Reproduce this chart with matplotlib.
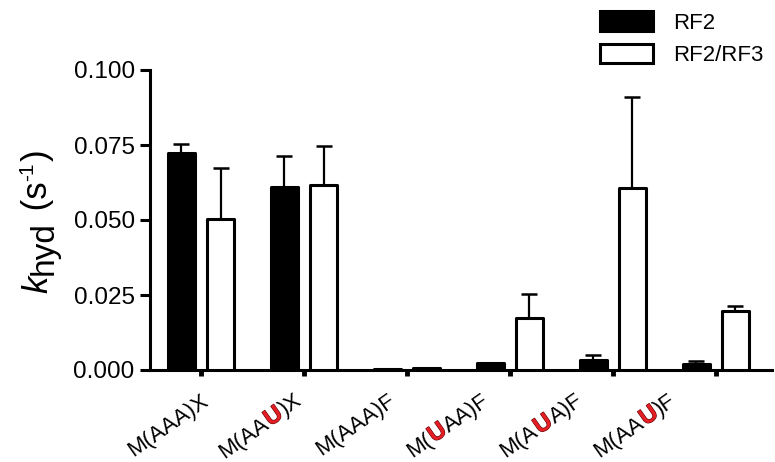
import numpy as np
import matplotlib
matplotlib.use('agg')
import matplotlib.pyplot as plt
from matplotlib import transforms, patheffects

plt.rcParams['font.family'] = ['Liberation Sans', 'DejaVu Sans']

### data
categories = ["M(AAA)X", "M(AAU)X", "M(AAA)F", "M(UAA)F", "M(AUA)F", "M(AAU)F"]
red_pos = [None, 4, None, 2, 3, 4]   # index of the mutated U in each label
series_names = ["RF2", "RF2/RF3"]
rf2 = [0.0722, 0.0610, 0.0004, 0.0025, 0.0035, 0.0020]
rf2_err = [0.0033, 0.0103, 0.0, 0.0, 0.0015, 0.0010]
rf23 = [0.0502, 0.0618, 0.0006, 0.0174, 0.0608, 0.0197]
rf23_err = [0.0170, 0.0130, 0.0, 0.0078, 0.0302, 0.0016]
yticks = [0.0, 0.025, 0.050, 0.075, 0.100]

RED = '#e31e24'


def rich_text(fig, trans, x, y, parts, angle, align='left'):
    # draw a row of text pieces (string, props, rise) along a rotated baseline
    r = fig.canvas.get_renderer()
    widths = []
    for s, p, rise in parts:
        t = fig.text(0, 0, s, **p)
        widths.append(t.get_window_extent(renderer=r).width * 72 / fig.dpi + 0.6)
        t.remove()
    total = sum(widths)
    c, sn = np.cos(np.radians(angle)), np.sin(np.radians(angle))
    pos = -total if align == 'right' else 0.0
    for (s, p, rise), w in zip(parts, widths):
        dx = pos * c - rise * sn
        dy = pos * sn + rise * c
        tr = transforms.offset_copy(trans, fig=fig, x=dx, y=dy, units='points')
        fig.text(x, y, s, transform=tr, rotation=angle, rotation_mode='anchor',
                 ha='left', va='baseline', **p)
        pos += w


fig = plt.figure(figsize=(7.75, 4.62), dpi=100)
ax = fig.add_axes([150/775, 92/462, 622/775, 300/462])

x = np.arange(len(categories))
off = 0.19
w = 0.26
ax.bar(x - off, rf2, w, color='black', edgecolor='black', linewidth=2.2,
       joinstyle='round', label=series_names[0], zorder=3)
ax.bar(x + off, rf23, w, color='white', edgecolor='black', linewidth=2.2,
       joinstyle='round', label=series_names[1], zorder=3)

for xs, vals, errs in [(x - off, rf2, rf2_err), (x + off, rf23, rf23_err)]:
    m = np.array(errs) > 0
    ax.errorbar(xs[m], np.array(vals)[m], yerr=[np.zeros(m.sum()), np.array(errs)[m]],
                fmt='none', ecolor='black', elinewidth=1.6, capsize=5.5, capthick=1.8,
                zorder=2)

ax.set_xlim(-0.495, 5.545)
ax.set_ylim(0, 0.1)
ax.set_yticks(yticks)
ax.set_yticklabels(['%.3f' % v for v in yticks], fontsize=17.5)
ax.set_xticks(x)
ax.set_xticklabels([])
for s in ['top', 'right']:
    ax.spines[s].set_visible(False)
for s in ['left', 'bottom']:
    ax.spines[s].set_linewidth(2.2)
    ax.spines[s].set_capstyle('projecting')
ax.tick_params(axis='y', length=7, width=2.2, pad=4)
ax.tick_params(axis='x', length=4, width=3.5)

# category labels with the mutated U in red
lab_x = 0.09 + 0.909 * x
base = transforms.blended_transform_factory(ax.transData, ax.transAxes)
for lx, name, rp in zip(lab_x, categories, red_pos):
    normal = dict(fontsize=16, color='black')
    if rp is None:
        parts = [(name, normal, 0)]
    else:
        red = dict(fontsize=17, color=RED, fontweight='bold',
                   path_effects=[patheffects.withStroke(linewidth=0.8, foreground='#5a0000')])
        parts = [(name[:rp], normal, 0), (name[rp], red, 0), (name[rp + 1:], normal, 0)]
    rich_text(fig, base, lx, -0.11, parts, 35, align='right')

# y label: k_hyd (s^-1)
yl = [("k", dict(fontsize=25, style='italic'), 0),
      ("hyd", dict(fontsize=24), -4),
      (" (s", dict(fontsize=25), 0),
      ("-1", dict(fontsize=15), 10),
      (")", dict(fontsize=25), 0)]
rich_text(fig, fig.transFigure, 47/775, 1 - 293/462, yl, 90)

ax.legend(loc='upper left', bbox_to_anchor=(600/775, 1 - 11/462),
          bbox_transform=fig.transFigure, frameon=False, fontsize=16,
          handlelength=2.4, handleheight=1.0, handletextpad=0.9,
          labelspacing=0.45, borderpad=0, borderaxespad=0)

fig.savefig('out.png', dpi=100, facecolor='white')
